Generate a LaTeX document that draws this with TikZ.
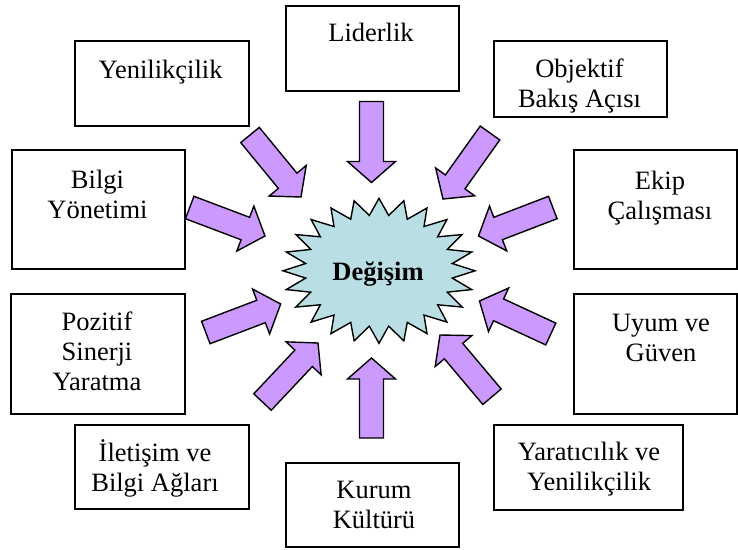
\documentclass[tikz,border=0pt]{standalone}
\usepackage{fontspec}
\setmainfont{Liberation Serif}
\usetikzlibrary{calc}

\definecolor{arrowfill}{RGB}{204,153,255}
\definecolor{starfill}{RGB}{185,223,228}

\tikzset{
  box/.style={draw=black, line width=1.4pt, fill=white, inner sep=0pt},
  % multi-line labels are placed by the baseline of their last line
  lbl/.style={align=center, anchor=base, inner sep=0pt,
              font=\fontsize{26.5}{30}\selectfont},
  starstyle/.style={draw=black, line width=1.4pt, fill=starfill, line join=miter},
  blockarrowstyle/.style={draw=black, line width=1.4pt, fill=arrowfill, line join=miter},
}

% Block arrow from a tail coordinate to a tip coordinate:
% shaft 24pt wide, head 48pt wide and 21pt long.
\newcommand\blockarrow[2]{%
  \coordinate (ba-h) at ($(#2)!21pt!(#1)$);
  \draw[blockarrowstyle]
    ($(#1)!12pt!90:(#2)$) --
    ($(ba-h)!12pt!-90:(#1)$) --
    ($(ba-h)!24pt!-90:(#1)$) --
    (#2) --
    ($(ba-h)!24pt!90:(#1)$) --
    ($(ba-h)!12pt!90:(#1)$) --
    ($(#1)!12pt!-90:(#2)$) -- cycle;
}

\begin{document}
\begin{tikzpicture}[x=1pt, y=-1pt]
\useasboundingbox[fill=white] (0,0) rectangle (738,549);

% central star
\draw[starstyle] (379+96,270.8)
  \foreach \i [evaluate=\i as \r using {mod(\i,2)==0 ? 1 : 0.77}] in {1,...,47} {
    -- ({379+96*\r*cos(\i*7.5)},{270.8+72.5*\r*sin(\i*7.5)})
  } -- cycle;
\node[lbl, font=\fontsize{26.5}{30}\selectfont\bfseries] (degisim) at (378,280) {Değişim};

% surrounding boxes
\node[box, minimum width=173pt, minimum height=85pt]  (lider)    at (372.5,48.5) {};
\node[box, minimum width=174pt, minimum height=85pt]  (yenilik)  at (162,83.5)   {};
\node[box, minimum width=173pt, minimum height=76pt]  (objektif) at (580.5,79)   {};
\node[box, minimum width=173pt, minimum height=119pt] (bilgi)    at (98.5,209.5) {};
\node[box, minimum width=163pt, minimum height=119pt] (ekip)     at (655.5,209.5){};
\node[box, minimum width=174pt, minimum height=120pt] (pozitif)  at (98,354)     {};
\node[box, minimum width=163pt, minimum height=120pt] (uyum)     at (655.5,354)  {};
\node[box, minimum width=174pt, minimum height=84pt]  (iletisim) at (162,467)    {};
\node[box, minimum width=173pt, minimum height=84pt]  (kurum)    at (372.5,505)  {};
\node[box, minimum width=189pt, minimum height=85pt]  (yaratici) at (588.5,467.5){};

% box texts
\node[lbl] (t-lider)    at (371,41.5)   {Liderlik};
\node[lbl] (t-yenilik)  at (160.5,78.5) {Yenilikçilik};
\node[lbl] (t-objektif) at (579.5,107.3){Objektif\\Bakış Açısı};
\node[lbl] (t-bilgi)    at (97.5,218.5) {Bilgi\\Yönetimi};
\node[lbl] (t-ekip)     at (660,219)    {Ekip\\Çalışması};
\node[lbl] (t-pozitif)  at (97,390.5)   {Pozitif\\Sinerji\\Yaratma};
\node[lbl] (t-uyum)     at (661,361)    {Uyum ve\\Güven};
\node[lbl] (t-iletisim) at (155,491.5)  {İletişim ve\\Bilgi Ağları};
\node[lbl] (t-kurum)    at (374,528)    {Kurum\\Kültürü};
\node[lbl] (t-yaratici) at (589,490)    {Yaratıcılık ve\\Yenilikçilik};

% arrow tails and tips
\coordinate (a1t) at (371.5,101.5); \coordinate (a1p) at (371.5,182.5);
\coordinate (a2t) at (371.5,438);   \coordinate (a2p) at (371.5,358);
\coordinate (a3t) at (250,135);     \coordinate (a3p) at (301,197);
\coordinate (a4t) at (189.7,207.5); \coordinate (a4p) at (265,236);
\coordinate (a5t) at (552.8,207.5); \coordinate (a5p) at (478.5,236);
\coordinate (a6t) at (490,133);     \coordinate (a6p) at (443,199);
\coordinate (a7t) at (205.8,332.5); \coordinate (a7p) at (280.7,304);
\coordinate (a8t) at (262.5,402);   \coordinate (a8p) at (318,343);
\coordinate (a9t) at (550.8,334);   \coordinate (a9p) at (479.5,301);
\coordinate (a10t) at (492,396.7);  \coordinate (a10p) at (440,335);

\blockarrow{a1t}{a1p}
\blockarrow{a2t}{a2p}
\blockarrow{a3t}{a3p}
\blockarrow{a4t}{a4p}
\blockarrow{a5t}{a5p}
\blockarrow{a6t}{a6p}
\blockarrow{a7t}{a7p}
\blockarrow{a8t}{a8p}
\blockarrow{a9t}{a9p}
\blockarrow{a10t}{a10p}
\end{tikzpicture}
\end{document}
